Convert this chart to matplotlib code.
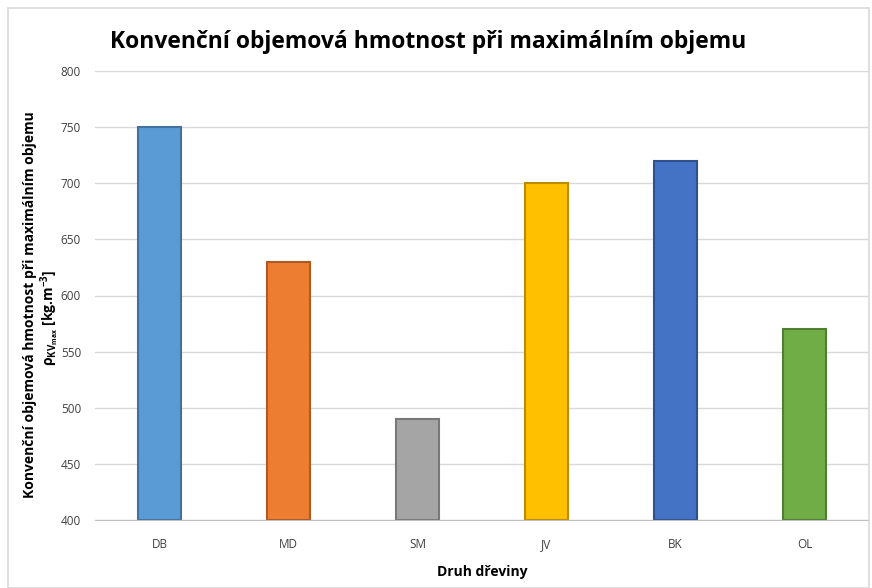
import matplotlib
matplotlib.use("Agg")
import matplotlib.pyplot as plt
from matplotlib.patches import Rectangle

categories = ["DB", "MD", "SM", "JV", "BK", "OL"]
values = [750, 630, 490, 700, 720, 570]
colors = ["#5B9BD5", "#ED7D31", "#A5A5A5", "#FFC000", "#4472C4", "#70AD47"]
edges = ["#41719C", "#AE5A21", "#787878", "#BC8C00", "#2F528F", "#507E32"]
yticks = [400, 450, 500, 550, 600, 650, 700, 750, 800]

plt.rcParams['font.family'] = ['Open Sans', 'DejaVu Sans']

fig = plt.figure(figsize=(8.72, 5.88), dpi=100)
ax = fig.add_axes([95/872, 1 - 520/588, (869-95)/872, (520-71)/588])

x = range(len(categories))
ax.bar(x, [v - 400 for v in values], bottom=400, width=0.33, color=colors,
       edgecolor=edges, linewidth=1.5, zorder=3)
ax.set_xlim(-0.5, len(categories) - 0.5)
ax.set_ylim(400, 800)
ax.set_yticks(yticks)
ax.set_yticklabels([str(t) for t in yticks], fontsize=8.5, color="#404040")
ax.set_xticks(list(x))
ax.set_xticklabels(categories, fontsize=8.5, color="#404040")
ax.tick_params(axis='both', length=0)
ax.tick_params(axis='x', pad=13)
ax.tick_params(axis='y', pad=10)
ax.grid(axis='y', color="#d9d9d9", linewidth=1, zorder=0)
for s in ["top", "right", "left"]:
    ax.spines[s].set_visible(False)
ax.spines["bottom"].set_color("#bfbfbf")
ax.spines["bottom"].set_zorder(4)

ax.set_xlabel("Druh dřeviny", fontsize=10, fontweight='bold', labelpad=10)

fig.text(110/872, 1 - 42/588, "Konvenční objemová hmotnost při maximálním objemu",
         fontsize=16.5, fontweight='bold', va='center', ha='left')
fig.text(30/872, 1 - 305/588, "Konvenční objemová hmotnost při maximálním objemu",
         fontsize=10, fontweight='bold', rotation=90, va='center', ha='center')
fig.text(50/872, 1 - 318/588, r"$\mathregular{\rho_{KV_{max}}}$ [kg.m$\mathregular{^{-3}}$]",
         fontsize=10, fontweight='bold', rotation=90, va='center', ha='center')

fig.patches.append(Rectangle((8/872, 0.0), (869-8)/872, 1 - 8/588, transform=fig.transFigure,
                             fill=False, edgecolor="#d9d9d9", linewidth=1.2))

fig.savefig("out.png", dpi=100)
